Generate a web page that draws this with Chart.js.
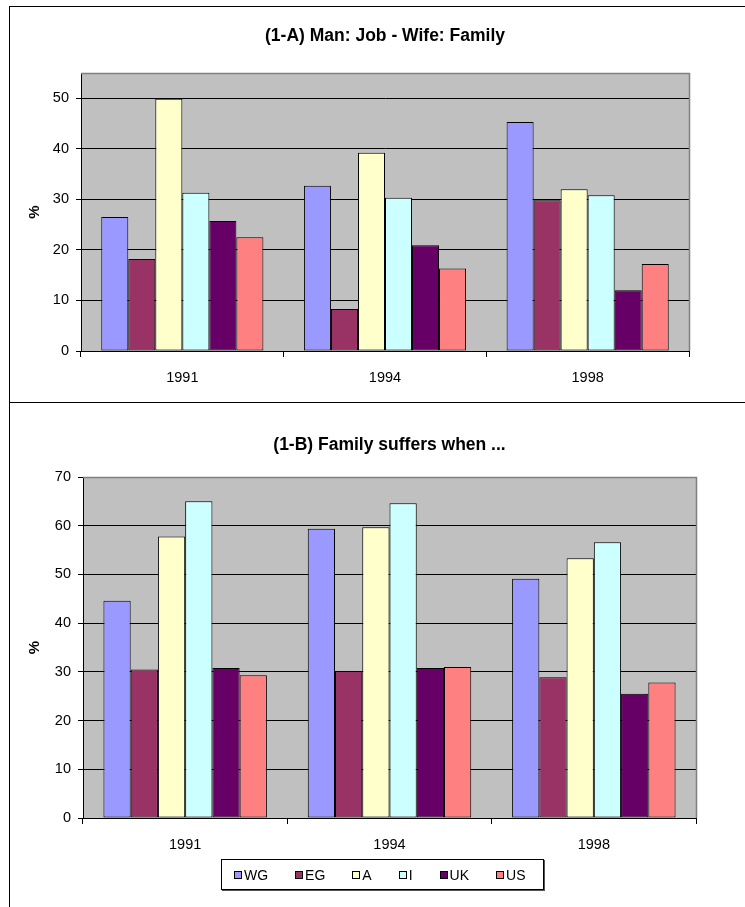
<!DOCTYPE html>
<html>
<head>
<meta charset="utf-8">
<script src="https://cdn.jsdelivr.net/npm/chart.js@4"></script>
<style>
  body { margin: 0; background: #fff; font-family: "Liberation Sans", Arial, sans-serif; }
  #page { position: relative; width: 745px; height: 907px; overflow: hidden; }
  .box { position: absolute; box-sizing: border-box; border: 1px solid #000; }
  canvas { position: absolute; left: 0; }
  #legend {
    position: absolute; left: 221px; top: 859px; width: 323px; height: 31px;
    box-sizing: border-box; border: 1px solid #000; box-shadow: 1px 1px 0 #555;
    display: flex; align-items: center; padding-left: 12px; gap: 27px;
    font-size: 14px; color: #000; background: #fff;
  }
  #legend span.item { display: flex; align-items: center; }
  #legend i { display: inline-block; width: 6px; height: 6px; border: 1px solid #000; margin-right: 2px; }
</style>
</head>
<body>
<div id="page">
  <div class="box" style="left:9px; top:6px; width:760px; height:397px;"></div>
  <div class="box" style="left:9px; top:402px; width:760px; height:600px;"></div>
  <canvas id="chartA" width="745" height="402" style="top:0"></canvas>
  <canvas id="chartB" width="745" height="505" style="top:402px"></canvas>
  <div id="legend"></div>
</div>
<script>
const years = ["1991", "1994", "1998"];
const countries = ["WG", "EG", "A", "I", "UK", "US"];

// (1-A) Man: Job - Wife: Family
const jobWG = [26.5, 32.7, 45.3];
const jobEG = [18.2, 8.3, 29.8];
const jobA = [49.9, 39.2, 32.0];
const jobI = [31.3, 30.3, 30.8];
const jobUK = [25.7, 20.9, 12.0];
const jobUS = [22.5, 16.3, 17.2];
const ticksA = [0, 10, 20, 30, 40, 50];

// (1-B) Family suffers when ...
const sufferWG = [44.6, 59.4, 49.1];
const sufferEG = [30.5, 30.2, 28.9];
const sufferA = [57.8, 59.7, 53.3];
const sufferI = [65.0, 64.6, 56.6];
const sufferUK = [30.8, 30.8, 25.5];
const sufferUS = [29.3, 31.0, 27.8];
const ticksB = [0, 10, 20, 30, 40, 50, 60, 70];

const colors = ["#9999FF", "#993366", "#FFFFCC", "#CCFFFF", "#660066", "#FF8080"];
const FONT = "'Liberation Sans', Arial, sans-serif";

const plotFrame = {
  id: "plotFrame",
  beforeDraw(chart) {
    const a = chart.chartArea, ctx = chart.ctx;
    ctx.save();
    ctx.fillStyle = "#C0C0C0";
    ctx.fillRect(a.left, a.top, a.right - a.left, a.bottom - a.top);
    ctx.restore();
  },
  afterDraw(chart) {
    const a = chart.chartArea, ctx = chart.ctx;
    ctx.save();
    ctx.strokeStyle = "#808080";
    ctx.lineWidth = 1.5;
    ctx.beginPath();
    ctx.moveTo(a.left, a.top + 0.5);
    ctx.lineTo(a.right + 0.5, a.top + 0.5);
    ctx.lineTo(a.right + 0.5, a.bottom);
    ctx.stroke();
    ctx.restore();
  }
};

function makeChart(id, title, series, yTicks, geo) {
  new Chart(document.getElementById(id), {
    type: "bar",
    data: {
      labels: years,
      datasets: series.map((vals, i) => ({
        label: countries[i],
        data: vals,
        backgroundColor: colors[i],
        borderColor: "#000",
        borderWidth: 1,
        borderSkipped: false,
        categoryPercentage: 0.8,
        barPercentage: 1.0
      }))
    },
    options: {
      responsive: false,
      animation: false,
      layout: { padding: { left: 0, right: geo.padRight, top: 0, bottom: 0 } },
      plugins: {
        legend: { display: false },
        tooltip: { enabled: false },
        title: {
          display: true,
          fullSize: false,
          text: title,
          color: "#000",
          font: { family: FONT, size: 17.5, weight: "bold", lineHeight: 1.2 },
          padding: { top: geo.titleTop, bottom: geo.titleBottom }
        }
      },
      scales: {
        x: {
          grid: { drawOnChartArea: false, drawTicks: true, tickLength: 6, color: "#000", offset: true },
          border: { color: "#000", width: 1 },
          ticks: { color: "#000", padding: 12, font: { family: FONT, size: 14.5 } },
          afterFit: (s) => { s.height = geo.xHeight; }
        },
        y: {
          min: 0,
          max: geo.max,
          afterBuildTicks: (s) => { s.ticks = yTicks.map(v => ({ value: v })); },
          grid: { color: "#000", lineWidth: 1, drawTicks: true, tickLength: 5 },
          border: { color: "#000", width: 1 },
          ticks: { color: "#000", padding: 7, font: { family: FONT, size: 14.5 } },
          title: {
            display: true,
            text: "%",
            color: "#000",
            font: { family: FONT, size: 15, weight: "bold", lineHeight: 1.2 },
            padding: { top: 26, bottom: 0 }
          },
          afterFit: (s) => { s.width = geo.yWidth; }
        }
      }
    },
    plugins: [plotFrame]
  });
}

makeChart("chartA", "(1-A) Man: Job - Wife: Family",
  [jobWG, jobEG, jobA, jobI, jobUK, jobUS], ticksA,
  { max: 55, padRight: 56, titleTop: 26, titleBottom: 26, xHeight: 51, yWidth: 81 });

makeChart("chartB", "(1-B) Family suffers when ...",
  [sufferWG, sufferEG, sufferA, sufferI, sufferUK, sufferUS], ticksB,
  { max: 70, padRight: 49, titleTop: 33, titleBottom: 21, xHeight: 89, yWidth: 83 });

const legend = document.getElementById("legend");
countries.forEach((c, i) => {
  const item = document.createElement("span");
  item.className = "item";
  const sw = document.createElement("i");
  sw.style.background = colors[i];
  item.appendChild(sw);
  item.appendChild(document.createTextNode(c));
  legend.appendChild(item);
});
</script>
</body>
</html>
